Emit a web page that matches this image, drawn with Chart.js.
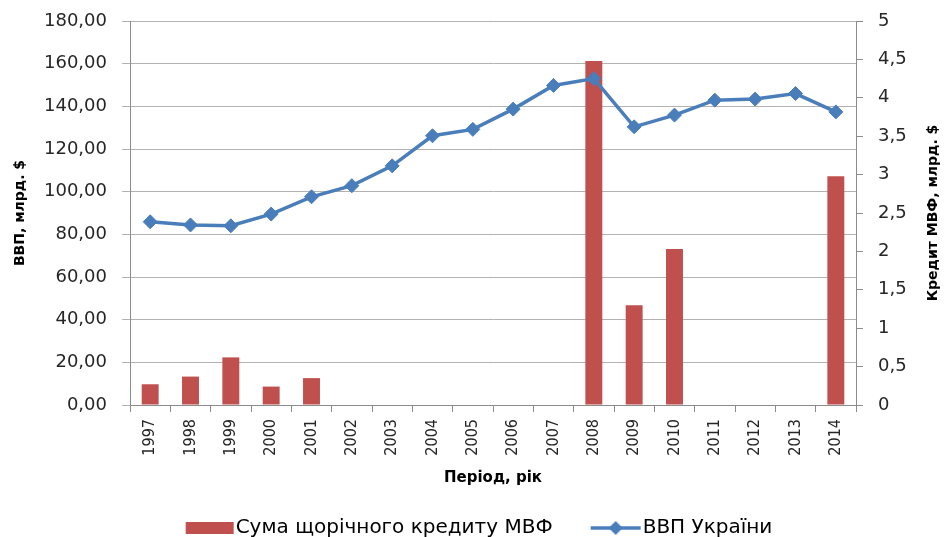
<!DOCTYPE html>
<html>
<head>
<meta charset="utf-8">
<script src="https://cdn.jsdelivr.net/npm/chart.js@4.4.1/dist/chart.umd.min.js"></script>
<style>
  html, body { margin: 0; padding: 0; background: #fff; }
  #wrap { width: 945px; height: 537px; position: relative; }
</style>
</head>
<body>
<div id="wrap"><canvas id="imf-chart"></canvas></div>
<script>
// Chart data
var years = ["1997","1998","1999","2000","2001","2002","2003","2004","2005",
             "2006","2007","2008","2009","2010","2011","2012","2013","2014"];
// IMF annual credit, bn $ (right axis)
var imfCredit = [0.27, 0.37, 0.62, 0.24, 0.35, null, null, null, null,
                 null, null, 4.48, 1.30, 2.03, null, null, null, 2.98];
// GDP of Ukraine, bn $ (left axis)
var gdp = [85.9, 84.4, 84.0, 89.5, 97.6, 102.8, 112.1, 126.2, 129.2,
           138.7, 149.8, 153.0, 130.4, 135.9, 142.9, 143.4, 146.0, 137.4];

var creditLabel = "Сума щорічного кредиту МВФ";
var gdpLabel = "ВВП України";
var xTitle = "Період, рік";
var leftTitle = "ВВП, млрд. $";
var rightTitle = "Кредит МВФ, млрд. $";

var barColor = "#C0504D";
var lineColor = "#4A7EBB";
var gridColor = "#B2B2B2";
var axisColor = "#8C8C8C";
var textColor = "#262626";

Chart.defaults.font.family = "'DejaVu Sans', sans-serif";
Chart.defaults.color = textColor;

// legend markers (a bit wider than the legend box so they sit close to the text)
function makeBoxImg() {
    var c = document.createElement("canvas");
    c.width = 90; c.height = 14;
    var g = c.getContext("2d");
    g.fillStyle = barColor;
    g.fillRect(40, 1, 48, 12);
    return c;
}
function makeLineImg() {
    var c = document.createElement("canvas");
    c.width = 90; c.height = 14;
    var g = c.getContext("2d");
    g.strokeStyle = lineColor;
    g.lineWidth = 3.5;
    g.beginPath(); g.moveTo(38, 7); g.lineTo(88, 7); g.stroke();
    g.fillStyle = lineColor;
    g.beginPath();
    g.moveTo(63, 0); g.lineTo(70, 7); g.lineTo(63, 14); g.lineTo(56, 7);
    g.closePath(); g.fill();
    return c;
}
var boxImg = makeBoxImg();
var lineImg = makeLineImg();

// right axis title (reads bottom to top like the left one)
var rightTitlePlugin = {
    id: "rightTitle",
    afterDraw: function(chart) {
        var ctx = chart.ctx;
        ctx.save();
        ctx.translate(chart.width - 12, (chart.chartArea.top + chart.chartArea.bottom) / 2);
        ctx.rotate(-Math.PI / 2);
        ctx.font = "bold 14px 'DejaVu Sans'";
        ctx.fillStyle = "#000";
        ctx.textAlign = "center";
        ctx.textBaseline = "middle";
        ctx.fillText(rightTitle, 0, 0);
        ctx.restore();
    }
};

var ctx = document.getElementById("imf-chart");

var chartData = {
    labels: years,
    datasets: [{
        type: "bar",
        label: creditLabel,
        data: imfCredit,
        yAxisID: "y1",
        backgroundColor: barColor,
        borderColor: "transparent",
        categoryPercentage: 1,
        barPercentage: 0.42,
        order: 2
    }, {
        type: "line",
        label: gdpLabel,
        data: gdp,
        yAxisID: "y",
        borderColor: lineColor,
        backgroundColor: lineColor,
        borderWidth: 3.5,
        tension: 0,
        pointStyle: "rectRot",
        pointRadius: 7,
        pointBorderWidth: 1,
        pointBackgroundColor: lineColor,
        pointBorderColor: lineColor,
        order: 1
    }]
};

var config = {
    data: chartData,
    plugins: [rightTitlePlugin],
    options: {
        responsive: true,
        maintainAspectRatio: false,
        animation: false,
        layout: { autoPadding: false, padding: { top: 21, left: 0, right: 17, bottom: -11 } },
        plugins: {
            tooltip: { enabled: false },
            legend: {
                position: "bottom",
                labels: {
                    usePointStyle: true,
                    pointStyleWidth: 70,
                    padding: 10,
                    color: textColor,
                    font: { size: 20 },
                    generateLabels: function() {
                        return [
                            { text: creditLabel, pointStyle: boxImg, datasetIndex: 0,
                              fillStyle: barColor, strokeStyle: "transparent", lineWidth: 0, hidden: false },
                            { text: gdpLabel, pointStyle: lineImg, datasetIndex: 1,
                              fillStyle: lineColor, strokeStyle: "transparent", lineWidth: 0, hidden: false }
                        ];
                    }
                }
            }
        },
        scales: {
            x: {
                afterFit: function(s) { s.height = 103; },
                grid: { drawOnChartArea: false, drawTicks: true, tickLength: 7, color: axisColor },
                border: { display: true, color: axisColor },
                ticks: {
                    minRotation: 90, maxRotation: 90, padding: 7, autoSkip: false,
                    font: { family: "'DejaVu Sans Condensed'", size: 16 }, color: textColor
                },
                title: {
                    display: true, text: xTitle, color: "#000",
                    font: { size: 15, weight: "bold" },
                    padding: { top: 0, bottom: 21 }
                }
            },
            y: {
                position: "left",
                min: 0, max: 180,
                afterFit: function(s) { s.width = 130; },
                grid: { color: gridColor, drawTicks: true, tickLength: 8 },
                border: { display: true, color: axisColor },
                ticks: {
                    stepSize: 20, padding: 15, font: { size: 18, lineHeight: 0.6 }, color: textColor,
                    callback: function(v) { return v.toFixed(2).replace(".", ","); }
                },
                title: {
                    display: true, text: leftTitle, color: "#000",
                    font: { size: 14, weight: "bold" },
                    padding: { top: 12, bottom: 0 }
                }
            },
            y1: {
                position: "right",
                min: 0, max: 5,
                afterFit: function(s) { s.width = 72; },
                grid: { drawOnChartArea: false, drawTicks: true, tickLength: 7, color: axisColor },
                border: { display: true, color: axisColor },
                ticks: {
                    stepSize: 0.5, padding: 15, font: { size: 18, lineHeight: 0.6 }, color: textColor,
                    callback: function(v) { return String(v).replace(".", ","); }
                }
            }
        }
    }
};

// Create the chart
var comboChart = new Chart(ctx, config);
</script>
</body>
</html>
